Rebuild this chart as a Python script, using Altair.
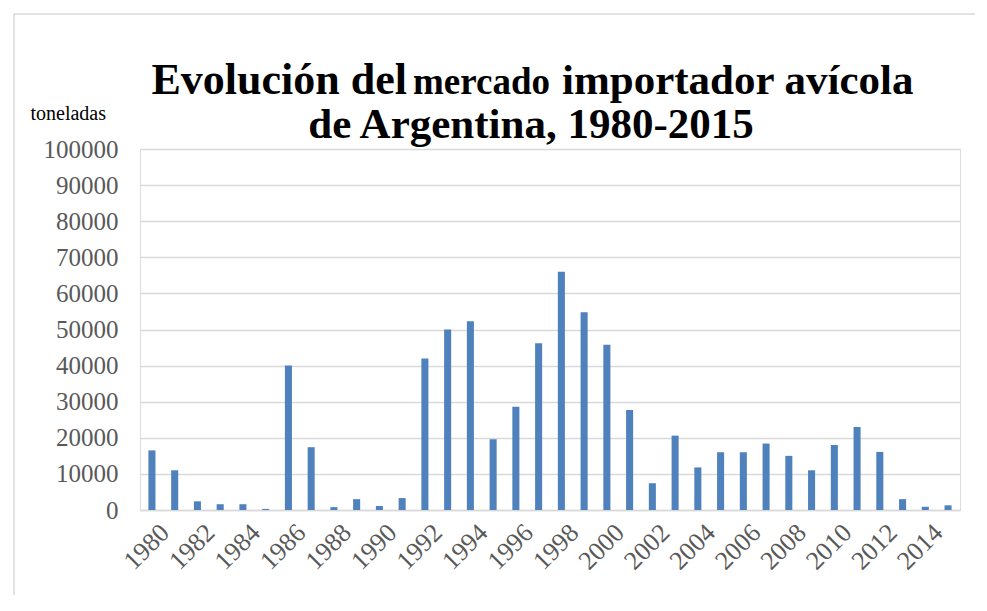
import altair as alt
import pandas as pd

years = [str(y) for y in range(1980, 2016)]
toneladas = [16500, 11000, 2400, 1600, 1600, 300, 40000, 17400, 800, 3000,
             1100, 3300, 42000, 50000, 52300, 19600, 28600, 46200, 66000, 54800,
             45800, 27700, 7400, 20600, 11800, 16000, 16000, 18400, 15000, 11000,
             18000, 23000, 16100, 3000, 900, 1300]
label_years = [str(y) for y in range(1980, 2016, 2)]

title_line1a = "Evolución del"
title_line1b = "mercado"
title_line1c = "importador avícola"
title_line2 = "de Argentina, 1980-2015"
y_title = "toneladas"

df = pd.DataFrame({"year": years, "value": toneladas})

FONT = "Liberation Serif, Times New Roman, serif"

bars = alt.Chart(df).mark_bar(color="#4F81BD").encode(
    x=alt.X("year:O", sort=years,
            scale=alt.Scale(paddingInner=0.69, paddingOuter=0.37),
            axis=alt.Axis(values=label_years, labelAngle=-45, title=None,
                          ticks=False, domain=True, domainColor="#D9D9D9",
                          domainWidth=1.5, labelFont=FONT, labelFontSize=26,
                          labelColor="#595959", labelPadding=9, labelOffset=4,
                          grid=False)),
    y=alt.Y("value:Q", scale=alt.Scale(domain=[0, 100000], nice=False),
            axis=alt.Axis(values=list(range(0, 100001, 10000)), format="d",
                          title=y_title, titleAngle=0, titleX=-110, titleY=-30,
                          titleAlign="left", titleBaseline="alphabetic",
                          titleFont=FONT, titleFontSize=20, titleFontWeight="normal",
                          titleColor="#000000",
                          ticks=False, domain=False, labelFont=FONT,
                          labelFontSize=25, labelColor="#595959", labelPadding=22,
                          gridColor="#D9D9D9", gridWidth=1.3)),
)

def txt(s, x, y, size, align):
    return alt.Chart(pd.DataFrame({"t": [s]})).mark_text(
        font=FONT, fontSize=size, fontWeight="bold", color="#000000",
        align=align, baseline="alphabetic"
    ).encode(text="t:N", x=alt.value(x), y=alt.value(y))

t1 = txt(title_line1a, 267, -55, 44, "right")
t2 = txt(title_line1b, 273, -55, 37, "left")
t3 = txt(title_line1c, 422, -55, 43, "left")
t4 = txt(title_line2, 391, -11, 43, "center")

border = alt.Chart(pd.DataFrame({"a": [0]})).mark_rect(
    fill=None, stroke="#D9D9D9", strokeWidth=1.5
).encode(x=alt.value(-126), y=alt.value(-135), x2=alt.value(860), y2=alt.value(480))

chart = alt.layer(border, bars, t1, t2, t3, t4).properties(
    width=820, height=361,
    padding={"left": 132, "top": 141, "right": 15, "bottom": 85},
    autosize=alt.AutoSizeParams(type="none"),
).configure_view(stroke=None).configure(background="#FFFFFF")

chart.save("out.html", embed_options={"renderer": "svg", "actions": False})
